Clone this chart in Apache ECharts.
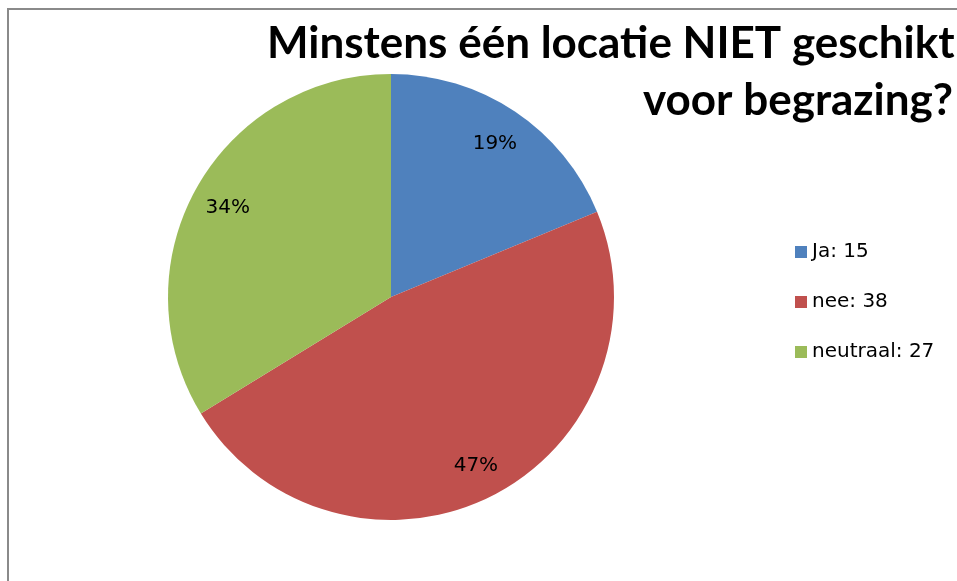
<!DOCTYPE html>
<html>
<head>
<meta charset="utf-8">
<script src="https://cdn.jsdelivr.net/npm/echarts@6/dist/echarts.min.js"></script>
<style>
  html, body { margin: 0; padding: 0; background: #fff; }
  #chart { width: 957px; height: 581px; }
</style>
</head>
<body>
<div id="chart"></div>
<script>
// answers and counts
var categories = ['Ja', 'nee', 'neutraal'];
var counts = [15, 38, 27];
var colors = ['#4F81BD', '#C0504D', '#9BBB59'];

var pieData = categories.map(function (name, i) {
    return { name: name, value: counts[i], itemStyle: { color: colors[i] } };
});

var chartDom = document.getElementById('chart');
var myChart = echarts.init(chartDom);

var titleStyle = { fontFamily: 'Lato', fontWeight: 'bold', fontSize: 44, color: '#000' };

var option = {
    animation: false,
    title: [
        { text: 'Minstens één locatie NIET geschikt', left: 262, top: 17, textStyle: titleStyle },
        { text: 'voor begrazing?', left: 638, top: 74, textStyle: titleStyle }
    ],
    graphic: [
        {
            type: 'rect',
            shape: { x: 8, y: 9, width: 1200, height: 800 },
            style: { fill: 'none', stroke: '#8a8a8a', lineWidth: 2 },
            silent: true
        }
    ],
    legend: {
        orient: 'vertical',
        left: 790,
        top: 237,
        itemWidth: 12,
        itemHeight: 12,
        itemGap: 30,
        icon: 'rect',
        data: categories,
        formatter: function (name) {
            return name + ': ' + counts[categories.indexOf(name)];
        },
        textStyle: { fontFamily: 'DejaVu Sans', fontSize: 20, color: '#000' }
    },
    series: [
        {
            type: 'pie',
            center: [391, 297],
            radius: [0, 223],
            startAngle: 90,
            clockwise: true,
            percentPrecision: 0,
            data: pieData,
            label: { show: false },
            labelLine: { show: false },
            emphasis: { disabled: true }
        },
        {
            // invisible twin pie, only to place the percentage labels further out
            type: 'pie',
            center: [391, 299],
            radius: [0, 368],
            startAngle: 90,
            clockwise: true,
            percentPrecision: 0,
            silent: true,
            data: pieData.map(function (d) {
                return { name: d.name, value: d.value, itemStyle: { color: 'rgba(0,0,0,0)' } };
            }),
            label: {
                show: true,
                position: 'inside',
                formatter: '{d}%',
                fontFamily: 'DejaVu Sans',
                fontSize: 20,
                color: '#000'
            },
            labelLine: { show: false },
            emphasis: { disabled: true },
            z: 3
        }
    ]
};

option && myChart.setOption(option);
</script>
</body>
</html>
